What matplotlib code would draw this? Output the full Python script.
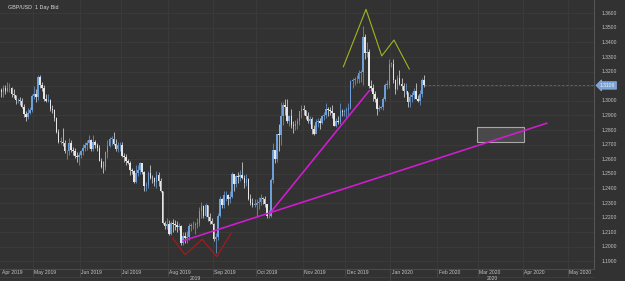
import numpy as np
import pandas as pd
import matplotlib
matplotlib.use('Agg')
import matplotlib.pyplot as plt
from matplotlib.transforms import blended_transform_factory

# GBP/USD daily bars, every weekday from 2019-04-09 to 2020-01-23
start_day = '2019-04-09'
first_open = 1.3075
closes = [
    # Apr
    1.3060, 1.3090, 1.3070, 1.3085, 1.3085, 1.3045, 1.3040, 1.3005, 1.3005, 1.3000,
    1.2960, 1.2910, 1.2890, 1.2920, 1.2935, 1.3035,
    # May
    1.3045, 1.3030, 1.3165, 1.3110, 1.3085, 1.3015, 1.3000, 1.3005, 1.2945, 1.2935,
    1.2880, 1.2790, 1.2720, 1.2720, 1.2715, 1.2655, 1.2655, 1.2710, 1.2665, 1.2655,
    1.2625, 1.2615, 1.2630,
    # Jun
    1.2660, 1.2680, 1.2695, 1.2715, 1.2735, 1.2670, 1.2720, 1.2700, 1.2680, 1.2590,
    1.2550, 1.2545, 1.2650, 1.2690, 1.2740, 1.2740, 1.2705, 1.2670, 1.2695, 1.2695,
    # Jul
    1.2625, 1.2615, 1.2590, 1.2575, 1.2525, 1.2520, 1.2445, 1.2505, 1.2525, 1.2575,
    1.2510, 1.2415, 1.2425, 1.2505, 1.2475, 1.2470, 1.2445, 1.2495, 1.2450, 1.2380,
    1.2165, 1.2145, 1.2155,
    # Aug
    1.2090, 1.2165, 1.2155, 1.2150, 1.2135, 1.2140, 1.2030, 1.2075, 1.2060, 1.2065,
    1.2145, 1.2150, 1.2150, 1.2160, 1.2165, 1.2245, 1.2280, 1.2215, 1.2290, 1.2205,
    1.2180, 1.2160,
    # Sep
    1.2055, 1.2065, 1.2215, 1.2325, 1.2285, 1.2355, 1.2355, 1.2330, 1.2345, 1.2500,
    1.2430, 1.2485, 1.2480, 1.2495, 1.2475, 1.2440, 1.2465, 1.2325, 1.2300, 1.2290,
    1.2290,
    # Oct
    1.2300, 1.2305, 1.2335, 1.2330, 1.2295, 1.2210, 1.2210, 1.2455, 1.2665, 1.2605,
    1.2770, 1.2765, 1.2895, 1.2975, 1.2960, 1.2860, 1.2895, 1.2835, 1.2830, 1.2845,
    1.2865, 1.2930, 1.2945,
    # Nov
    1.2935, 1.2895, 1.2865, 1.2875, 1.2805, 1.2775, 1.2855, 1.2860, 1.2850, 1.2895,
    1.2905, 1.2945, 1.2935, 1.2930, 1.2915, 1.2830, 1.2865, 1.2855, 1.2930, 1.2925,
    1.2930,
    # Dec
    1.2935, 1.2950, 1.3135, 1.3145, 1.3150, 1.3150, 1.3190, 1.3200, 1.3440, 1.3325,
    1.3335, 1.3105, 1.3085, 1.3045, 1.3015, 1.2945, 1.2950, 1.2955, 1.3010, 1.3110,
    1.3110, 1.3255,
    # Jan
    1.3255, 1.3145, 1.3080, 1.3155, 1.3115, 1.3100, 1.3065, 1.3065, 1.2995, 1.3025,
    1.3040, 1.3070, 1.3010, 1.3000, 1.3045, 1.3145, 1.3106,
]
highs = [
    1.3090, 1.3110, 1.3110, 1.3130, 1.3120, 1.3095, 1.3080, 1.3040, 1.3020, 1.3030,
    1.3020, 1.2980, 1.2930, 1.2950, 1.2960, 1.3050,
    1.3105, 1.3080, 1.3175, 1.3180, 1.3130, 1.3110, 1.3045, 1.3045, 1.3010, 1.2975,
    1.2945, 1.2890, 1.2805, 1.2755, 1.2815, 1.2735, 1.2665, 1.2745, 1.2735, 1.2685,
    1.2680, 1.2650, 1.2650,
    1.2665, 1.2705, 1.2720, 1.2730, 1.2765, 1.2740, 1.2765, 1.2730, 1.2710, 1.2695,
    1.2610, 1.2590, 1.2660, 1.2730, 1.2755, 1.2760, 1.2785, 1.2740, 1.2720, 1.2720,
    1.2720, 1.2645, 1.2635, 1.2605, 1.2590, 1.2540, 1.2525, 1.2560, 1.2560, 1.2580,
    1.2575, 1.2520, 1.2445, 1.2520, 1.2560, 1.2490, 1.2480, 1.2520, 1.2510, 1.2470,
    1.2385, 1.2180, 1.2200,
    1.2185, 1.2180, 1.2190, 1.2185, 1.2175, 1.2165, 1.2150, 1.2100, 1.2105, 1.2110,
    1.2165, 1.2165, 1.2180, 1.2170, 1.2195, 1.2275, 1.2310, 1.2285, 1.2300, 1.2290,
    1.2235, 1.2200,
    1.2165, 1.2095, 1.2235, 1.2350, 1.2335, 1.2385, 1.2385, 1.2365, 1.2385, 1.2510,
    1.2480, 1.2495, 1.2510, 1.2530, 1.2580, 1.2490, 1.2500, 1.2470, 1.2360, 1.2335,
    1.2325,
    1.2325, 1.2345, 1.2365, 1.2345, 1.2350, 1.2295, 1.2255, 1.2475, 1.2710, 1.2665,
    1.2765, 1.2840, 1.2990, 1.2990, 1.3015, 1.3010, 1.2905, 1.2945, 1.2865, 1.2870,
    1.2880, 1.2930, 1.2975,
    1.2975, 1.2935, 1.2925, 1.2895, 1.2890, 1.2835, 1.2875, 1.2885, 1.2880, 1.2900,
    1.2925, 1.2985, 1.2955, 1.2955, 1.2975, 1.2920, 1.2880, 1.2895, 1.2985, 1.2945,
    1.2945,
    1.2960, 1.2985, 1.3145, 1.3160, 1.3165, 1.3180, 1.3215, 1.3215, 1.3515, 1.3460,
    1.3400, 1.3355, 1.3140, 1.3115, 1.3070, 1.3025, 1.2975, 1.2965, 1.3025, 1.3120,
    1.3140, 1.3285,
    1.3265, 1.3285, 1.3150, 1.3175, 1.3215, 1.3155, 1.3120, 1.3120, 1.3060, 1.3050,
    1.3060, 1.3085, 1.3120, 1.3040, 1.3075, 1.3155, 1.3175,
]
lows = [
    1.3030, 1.3030, 1.3050, 1.3060, 1.3060, 1.3030, 1.3020, 1.2980, 1.2985, 1.2975,
    1.2950, 1.2890, 1.2865, 1.2875, 1.2910, 1.2925,
    1.3010, 1.2995, 1.3005, 1.3090, 1.3070, 1.3000, 1.2990, 1.2990, 1.2930, 1.2920,
    1.2865, 1.2780, 1.2710, 1.2705, 1.2690, 1.2640, 1.2605, 1.2630, 1.2650, 1.2630,
    1.2610, 1.2580, 1.2560,
    1.2610, 1.2630, 1.2660, 1.2665, 1.2680, 1.2660, 1.2660, 1.2680, 1.2655, 1.2585,
    1.2540, 1.2505, 1.2525, 1.2610, 1.2685, 1.2700, 1.2695, 1.2660, 1.2650, 1.2655,
    1.2615, 1.2580, 1.2560, 1.2565, 1.2490, 1.2500, 1.2440, 1.2440, 1.2485, 1.2500,
    1.2500, 1.2380, 1.2385, 1.2405, 1.2465, 1.2435, 1.2420, 1.2405, 1.2420, 1.2375,
    1.2160, 1.2120, 1.2120,
    1.2080, 1.2080, 1.2100, 1.2115, 1.2105, 1.2115, 1.2015, 1.2015, 1.2025, 1.2030,
    1.2050, 1.2110, 1.2125, 1.2090, 1.2130, 1.2145, 1.2195, 1.2195, 1.2205, 1.2175,
    1.2160, 1.2155,
    1.2040, 1.1960, 1.2045, 1.2205, 1.2265, 1.2265, 1.2315, 1.2285, 1.2300, 1.2335,
    1.2380, 1.2410, 1.2435, 1.2450, 1.2465, 1.2400, 1.2420, 1.2320, 1.2285, 1.2270,
    1.2270,
    1.2205, 1.2260, 1.2285, 1.2295, 1.2270, 1.2195, 1.2195, 1.2205, 1.2440, 1.2575,
    1.2580, 1.2660, 1.2700, 1.2835, 1.2900, 1.2850, 1.2825, 1.2815, 1.2780, 1.2800,
    1.2810, 1.2835, 1.2885,
    1.2905, 1.2875, 1.2850, 1.2840, 1.2775, 1.2765, 1.2785, 1.2820, 1.2810, 1.2840,
    1.2870, 1.2880, 1.2895, 1.2900, 1.2880, 1.2825, 1.2820, 1.2840, 1.2845, 1.2895,
    1.2895,
    1.2890, 1.2895, 1.2945, 1.3090, 1.3110, 1.3120, 1.3120, 1.3130, 1.3110, 1.3290,
    1.3300, 1.3090, 1.3070, 1.3000, 1.2995, 1.2905, 1.2930, 1.2945, 1.2940, 1.3000,
    1.3080, 1.3090,
    1.3235, 1.3125, 1.3050, 1.3075, 1.3110, 1.3075, 1.3030, 1.3045, 1.2960, 1.2960,
    1.2995, 1.3010, 1.3010, 1.2990, 1.2970, 1.3025, 1.3095,
]
last_price = '1.3106'

# drawings on the chart, as (bar index, price)
w_pattern_x = [83.9, 90.0, 98.4, 105.5, 112.5]
w_pattern_y = [1.2059, 1.1947, 1.2052, 1.1933, 1.2093]
hs_pattern_x = [167.5, 178.6, 186.3, 192.3, 199.8]
hs_pattern_y = [1.3234, 1.3627, 1.3308, 1.3417, 1.3218]
long_trend_x = [89.1, 267.1]
long_trend_y = [1.2042, 1.2847]
short_trend_x = [131.6, 180.2]
short_trend_y = [1.2232, 1.3070]
box_x = [232.8, 256.0]
box_y = [1.2718, 1.2819]

price_ticks = np.round(np.arange(1.18, 1.3601, 0.01), 2)

bg = '#323232'
grid_c = '#3c3c3c'
txt_c = '#c4c4c4'
up_c = '#6f9fd8'
down_c = '#e6e6e6'

closes = np.array(closes)
highs = np.array(highs)
lows = np.array(lows)
opens = np.concatenate([[first_open], closes[:-1]])
idx = np.arange(len(closes))

days = pd.bdate_range(start_day, '2020-05-29')
month_key = days.year * 12 + days.month
month_start = np.r_[0, np.nonzero(np.diff(month_key))[0] + 1]

xmin, xmax = -0.64, 290.25
ymin, ymax = 1.18486, 1.36911

dpi = 100
fig = plt.figure(figsize=(625 / dpi, 281 / dpi), dpi=dpi, facecolor=bg)
ax = fig.add_axes([0, 12 / 281, 594 / 625, 269 / 281])
ax.set_facecolor(bg)
ax.set_xlim(xmin, xmax)
ax.set_ylim(ymin, ymax)
for s in ax.spines.values():
    s.set_visible(False)
ax.spines['right'].set_visible(True)
ax.spines['right'].set_color('#555555')
ax.spines['right'].set_linewidth(0.8)
ax.spines['bottom'].set_visible(True)
ax.spines['bottom'].set_color('#4a4a4a')
ax.spines['bottom'].set_linewidth(0.8)
ax.set_xticks([])
ax.set_yticks([])

# grid
for p in price_ticks:
    ax.axhline(p, color=grid_c, lw=0.6, zorder=0)
for m in month_start[1:]:
    ax.axvline(m - 0.5, color=grid_c, lw=0.6, zorder=0)

# candles
up = closes >= opens
cols = np.where(up, up_c, down_c)
ax.vlines(idx, lows, highs, colors=cols, lw=0.5, zorder=2)
body_lo = np.minimum(opens, closes)
body_h = np.maximum(np.abs(closes - opens), 0.0003)
ax.bar(idx, body_h, bottom=body_lo, width=0.75, color=cols, linewidth=0, zorder=3)

# drawings
ax.plot(w_pattern_x, w_pattern_y, color='#b01818', lw=0.8, zorder=4)
ax.plot(hs_pattern_x, hs_pattern_y, color='#a3b321', lw=0.8, zorder=4)
ax.plot(long_trend_x, long_trend_y, color='#d21cd2', lw=1.15, zorder=4)
ax.plot(short_trend_x, short_trend_y, color='#d21cd2', lw=1.15, zorder=4)
ax.add_patch(plt.Rectangle((box_x[0], box_y[0]), box_x[1] - box_x[0], box_y[1] - box_y[0],
                           facecolor='#4c4c4c', edgecolor='#b4b4b4', lw=0.8, alpha=0.9, zorder=3))

# current price line and label
lp = float(last_price)
ax.plot([idx[-1], xmax], [lp, lp], color='#686868', lw=0.6, ls=(0, (3, 2)), zorder=1)
ty = blended_transform_factory(ax.transAxes, ax.transData)
ax.text(1.0 + 6 / 594, lp, last_price, transform=ty, ha='left', va='center',
        fontsize=3.6, family='Liberation Sans', color='#f2f2f2', clip_on=False,
        bbox=dict(boxstyle='larrow,pad=0.25', fc='#7aa2d6', ec='#9fc0ea', lw=0.4))

# price axis labels, cut at the bottom of the chart area
clip_rect = plt.Rectangle((0, 9 / 281), 1, 272 / 281, transform=fig.transFigure)
for p in price_ticks:
    if abs(p - lp) < 0.006:
        continue
    t = ax.text(1.0 + 8 / 594, p, '%.4f' % p, transform=ty, ha='left', va='center',
                fontsize=3.6, family='Liberation Sans', color=txt_c)
    t.set_clip_path(clip_rect)
    t.set_clip_on(True)

# time axis
tx = blended_transform_factory(ax.transData, ax.transAxes)
for k, m in enumerate(month_start):
    d = days[m]
    x0 = max(m - 0.5, xmin)
    ax.text(x0 + 0.6, -3.9 / 269, d.strftime('%b %Y'), transform=tx, ha='left', va='center',
            fontsize=3.6, family='Liberation Sans', color=txt_c, clip_on=False)
    if k > 0:
        ax.plot([m - 0.5, m - 0.5], [0, -7 / 269], transform=tx, color='#4a4a4a',
                lw=0.6, clip_on=False)
year_edge = month_start[np.nonzero(days[month_start].year == 2020)[0][0]] - 0.5
ax.plot([year_edge, year_edge], [0, -12 / 269], transform=tx, color='#4a4a4a',
        lw=0.6, clip_on=False)
ax.plot([xmin, xmax], [-7.5 / 269, -7.5 / 269], transform=tx, color='#404040',
        lw=0.6, clip_on=False)
ax.text((xmin + year_edge) / 2, -9.8 / 269, '2019', transform=tx, ha='center', va='center',
        fontsize=3.6, family='Liberation Sans', color=txt_c, clip_on=False)
ax.text((year_edge + xmax) / 2, -9.8 / 269, '2020', transform=tx, ha='center', va='center',
        fontsize=3.6, family='Liberation Sans', color=txt_c, clip_on=False)

ax.text(8 / 594, 1 - 7 / 269, 'GBP/USD  1 Day Bid', transform=ax.transAxes, ha='left',
        va='center', fontsize=3.9, family='Liberation Sans', color='#d8d8d8')

fig.savefig('out.png', dpi=dpi, facecolor=bg)
